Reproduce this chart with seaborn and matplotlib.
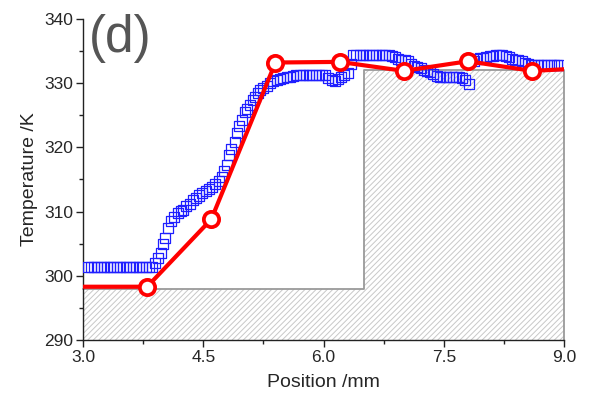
import numpy as np
import pandas as pd
import matplotlib
matplotlib.use("Agg")
import matplotlib.pyplot as plt
import seaborn as sns
from matplotlib.ticker import MultipleLocator, FormatStrFormatter

# ---- data ----
# measured profile (blue open squares)
meas_x = [3.06, 3.10, 3.14, 3.18, 3.22, 3.26, 3.30, 3.34, 3.38, 3.42, 3.46,
          3.50, 3.54, 3.58, 3.62, 3.66, 3.70, 3.74, 3.78, 3.82, 3.86,
          3.90, 3.94, 3.97, 4.00, 4.02, 4.06, 4.10, 4.13, 4.18, 4.22, 4.25,
          4.29, 4.33, 4.37, 4.41, 4.45, 4.49, 4.53, 4.57, 4.61, 4.65, 4.69,
          4.73, 4.76, 4.79, 4.82, 4.85, 4.89, 4.92, 4.95, 4.98, 5.02, 5.05,
          5.08, 5.12, 5.15, 5.18, 5.21, 5.25, 5.29, 5.33, 5.37, 5.42, 5.46,
          5.50, 5.54, 5.58, 5.62, 5.66, 5.70, 5.74, 5.78, 5.82, 5.86, 5.90,
          5.94, 5.98, 6.02, 6.06, 6.10, 6.14, 6.18, 6.22, 6.26, 6.30, 6.34,
          6.37, 6.41, 6.45, 6.49, 6.53, 6.57, 6.61, 6.65, 6.69, 6.73, 6.77,
          6.81, 6.85, 6.89, 6.93, 6.97, 7.01, 7.05, 7.09, 7.13, 7.17, 7.21,
          7.25, 7.29, 7.33, 7.37, 7.41, 7.45, 7.49, 7.53, 7.57, 7.61, 7.65,
          7.69, 7.72, 7.76, 7.81, 7.87, 7.91, 7.95, 7.99, 8.03, 8.07, 8.11,
          8.15, 8.19, 8.23, 8.27, 8.31, 8.35, 8.39, 8.43, 8.47, 8.51, 8.55,
          8.59, 8.63, 8.67, 8.71, 8.75, 8.79, 8.83, 8.87, 8.91, 8.94]
meas_T = [301.4, 301.4, 301.4, 301.4, 301.4, 301.4, 301.4, 301.4, 301.4, 301.4, 301.4,
          301.4, 301.4, 301.4, 301.4, 301.4, 301.4, 301.4, 301.4, 301.4, 301.4,
          302.0, 302.8, 303.6, 305.0, 305.9, 307.4, 308.5, 309.2, 309.8, 310.1, 310.3,
          310.8, 311.2, 311.8, 312.1, 312.5, 312.9, 313.2, 313.5, 313.9, 314.3, 314.7,
          315.4, 316.3, 317.3, 318.8, 319.8, 320.8, 322.2, 323.3, 324.3, 325.5, 326.0,
          326.6, 327.4, 327.9, 328.4, 328.9, 329.2, 329.6, 330.0, 330.3, 330.5, 330.7,
          330.8, 330.9, 331.0, 331.1, 331.3, 331.3, 331.3, 331.3, 331.3, 331.3, 331.3,
          331.3, 331.3, 331.2, 330.8, 330.5, 330.3, 330.6, 331.0, 331.3, 331.5, 333.0,
          334.3, 334.4, 334.4, 334.4, 334.4, 334.4, 334.4, 334.4, 334.3, 334.3, 334.3,
          334.3, 334.2, 334.0, 333.7, 333.6, 333.6, 333.5, 333.0, 332.6, 332.5, 332.4,
          332.0, 331.9, 331.8, 331.4, 331.1, 331.0, 331.0, 331.0, 331.0, 331.0, 331.0,
          330.9, 330.8, 330.5, 329.9, 333.4, 333.8, 333.9, 333.9, 334.0, 334.2, 334.2,
          334.3, 334.3, 334.3, 334.2, 334.0, 333.8, 333.6, 333.6, 333.4, 333.2, 333.0,
          332.8, 332.8, 332.8, 332.8, 332.8, 332.8, 332.8, 332.8, 332.8, 332.8]

# simulated profile (red line with open circles)
sim_x = [2.2, 3.8, 4.6, 5.4, 6.2, 7.0, 7.8, 8.6, 9.4]
sim_T = [298.3, 298.3, 308.8, 333.2, 333.3, 331.9, 333.4, 331.9, 332.4]

# sample outline (hatched region)
sample_x = [3.0, 6.5, 6.5, 9.0]
sample_T = [298.0, 298.0, 332.0, 332.0]
base_T = 290.0

x_ticks = [3.0, 4.5, 6.0, 7.5, 9.0]
y_ticks = [290, 300, 310, 320, 330, 340]

meas = pd.DataFrame({"x": meas_x, "T": meas_T})
sim = pd.DataFrame({"x": sim_x, "T": sim_T})

# ---- style ----
sns.set_theme(style="ticks")
plt.rcParams["font.family"] = ["Liberation Sans", "DejaVu Sans"]
plt.rcParams["hatch.linewidth"] = 0.7

fig = plt.figure(figsize=(5.97, 4.01), dpi=100)
ax = fig.add_axes([0.139, 0.152, 0.806, 0.801])

# hatched sample
ax.fill_between(sample_x, base_T, sample_T, facecolor="white",
                edgecolor="#c8c8c8", hatch="//////", linewidth=0, zorder=1)
ax.plot(sample_x + [sample_x[-1]], sample_T + [base_T], color="#9a9a9a",
        lw=1.3, zorder=2, clip_on=False)

sns.scatterplot(data=meas, x="x", y="T", ax=ax, marker="s", s=52,
                facecolor="none", edgecolor="#1f1fff", linewidth=0.9,
                zorder=3, legend=False)
sns.lineplot(data=sim, x="x", y="T", ax=ax, color="#ff0000", lw=3.0,
             marker="o", markersize=11, markerfacecolor="white",
             markeredgecolor="#ff0000", markeredgewidth=2.7, zorder=4,
             legend=False, sort=False)

ax.set_xlim(3.0, 9.0)
ax.set_ylim(290, 340)
ax.set_xticks(x_ticks)
ax.set_yticks(y_ticks)
ax.xaxis.set_minor_locator(MultipleLocator(0.75))
ax.yaxis.set_minor_locator(MultipleLocator(5))
ax.xaxis.set_major_formatter(FormatStrFormatter("%.1f"))
ax.tick_params(which="major", direction="out", length=5, width=1.0,
               labelsize=12.5, color="#222222", pad=2)
ax.tick_params(which="minor", direction="out", length=3, width=1.0,
               color="#222222")
for side in ["top", "right"]:
    ax.spines[side].set_visible(False)
for side in ["left", "bottom"]:
    ax.spines[side].set_color("#222222")
    ax.spines[side].set_linewidth(1.0)

ax.set_xlabel("Position /mm", fontsize=14, labelpad=7)
ax.set_ylabel("Temperature /K", fontsize=14, labelpad=4.5)
ax.text(0.012, 0.897, "(d)", transform=ax.transAxes, fontsize=37,
        color="#555555", va="baseline", ha="left")

fig.savefig("out.png", dpi=100)
